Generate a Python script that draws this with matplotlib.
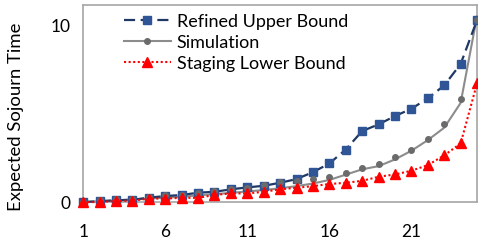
#!/usr/bin/env python3
import numpy as np
import matplotlib.pyplot as plt
from matplotlib.lines import Line2D

plt.rcParams['font.family'] = ['Lato', 'DejaVu Sans']

stage = np.arange(1, 26)
upper = [0.00, 0.05, 0.10, 0.13, 0.25, 0.34, 0.40, 0.53, 0.58, 0.72, 0.83, 0.92, 1.09,
         1.30, 1.69, 2.18, 2.97, 4.01, 4.39, 4.86, 5.27, 5.86, 6.59, 7.80, 10.28]
sim_pts = [0.02, 0.10, 0.15, 0.15, 0.27, 0.40, 0.40, 0.53, 0.64, 0.73, 0.81, 0.96, 1.11,
           1.20, 1.28, 1.43, 1.64, 1.94, 2.15, 2.54, 2.96, 3.58, 4.40, 5.80, 10.28]
sim_line = [0.00, 0.05, 0.10, 0.15, 0.20, 0.25, 0.30, 0.38, 0.45, 0.52, 0.60, 0.68, 0.78,
            0.90, 1.05, 1.25, 1.55, 1.85, 2.03, 2.41, 2.90, 3.50, 4.20, 5.60, 10.50]
lower = [0.00, 0.00, 0.07, 0.07, 0.20, 0.20, 0.24, 0.24, 0.40, 0.49, 0.49, 0.58, 0.72,
         0.81, 0.90, 1.02, 1.09, 1.20, 1.43, 1.56, 1.77, 2.09, 2.64, 3.31, 6.71]

blue_line = '#1F3864'
blue_mark = '#2F5597'
gray_line = '#8C8C8C'
gray_mark = '#6B6B6B'
red = '#FF0000'

fig = plt.figure(figsize=(4.78, 2.40), dpi=100)
ax = fig.add_axes([0.174, 0.158, 0.824, 0.821])

ax.plot(stage, upper, color=blue_line, lw=1.6, ls=(0, (5, 2.5)),
        marker='s', ms=5.2, mfc=blue_mark, mec=blue_mark, clip_on=False, zorder=3)
ax.plot(stage, sim_line, color=gray_line, lw=1.5, zorder=2, clip_on=False)
ax.plot(stage, sim_pts, ls='none', marker='o', ms=4, mfc=gray_mark, mec=gray_mark,
        clip_on=False, zorder=3)
ax.plot(stage, lower, color=red, lw=1.5, ls=(0, (1, 1.2)),
        marker='^', ms=6.5, mfc=red, mec=red, clip_on=False, zorder=4)

ax.set_xlim(1, 25)
ax.set_ylim(0, 11.13)
ax.set_xticks([1, 6, 11, 16, 21])
ax.set_yticks([0, 10])
ax.tick_params(length=0, labelsize=12.5, colors='#000000', pad=9)
ax.tick_params(axis='x', pad=16)
for s in ax.spines.values():
    s.set_color('#A6A6A6')
    s.set_linewidth(1.2)
ax.set_ylabel('Expected Sojourn Time', fontsize=13.3)
ax.yaxis.set_label_coords(-0.15, 0.435)

handles = [
    Line2D([], [], color=blue_line, lw=1.6, ls=(0, (5, 2.5)), marker='s', ms=5.2,
           mfc=blue_mark, mec=blue_mark),
    Line2D([], [], color=gray_line, lw=1.5, marker='o', ms=4, mfc=gray_mark, mec=gray_mark),
    Line2D([], [], color=red, lw=1.5, ls=(0, (1, 1.2)), marker='^', ms=6.5, mfc=red, mec=red),
]
labels = ['Refined Upper Bound', 'Simulation', 'Staging Lower Bound']
ax.legend(handles, labels, loc='upper left', bbox_to_anchor=(0.066, 1.03), frameon=False,
          fontsize=13, handlelength=2.6, handletextpad=0.35, labelspacing=0.28,
          borderpad=0.3)

fig.savefig('out.png', dpi=100)
